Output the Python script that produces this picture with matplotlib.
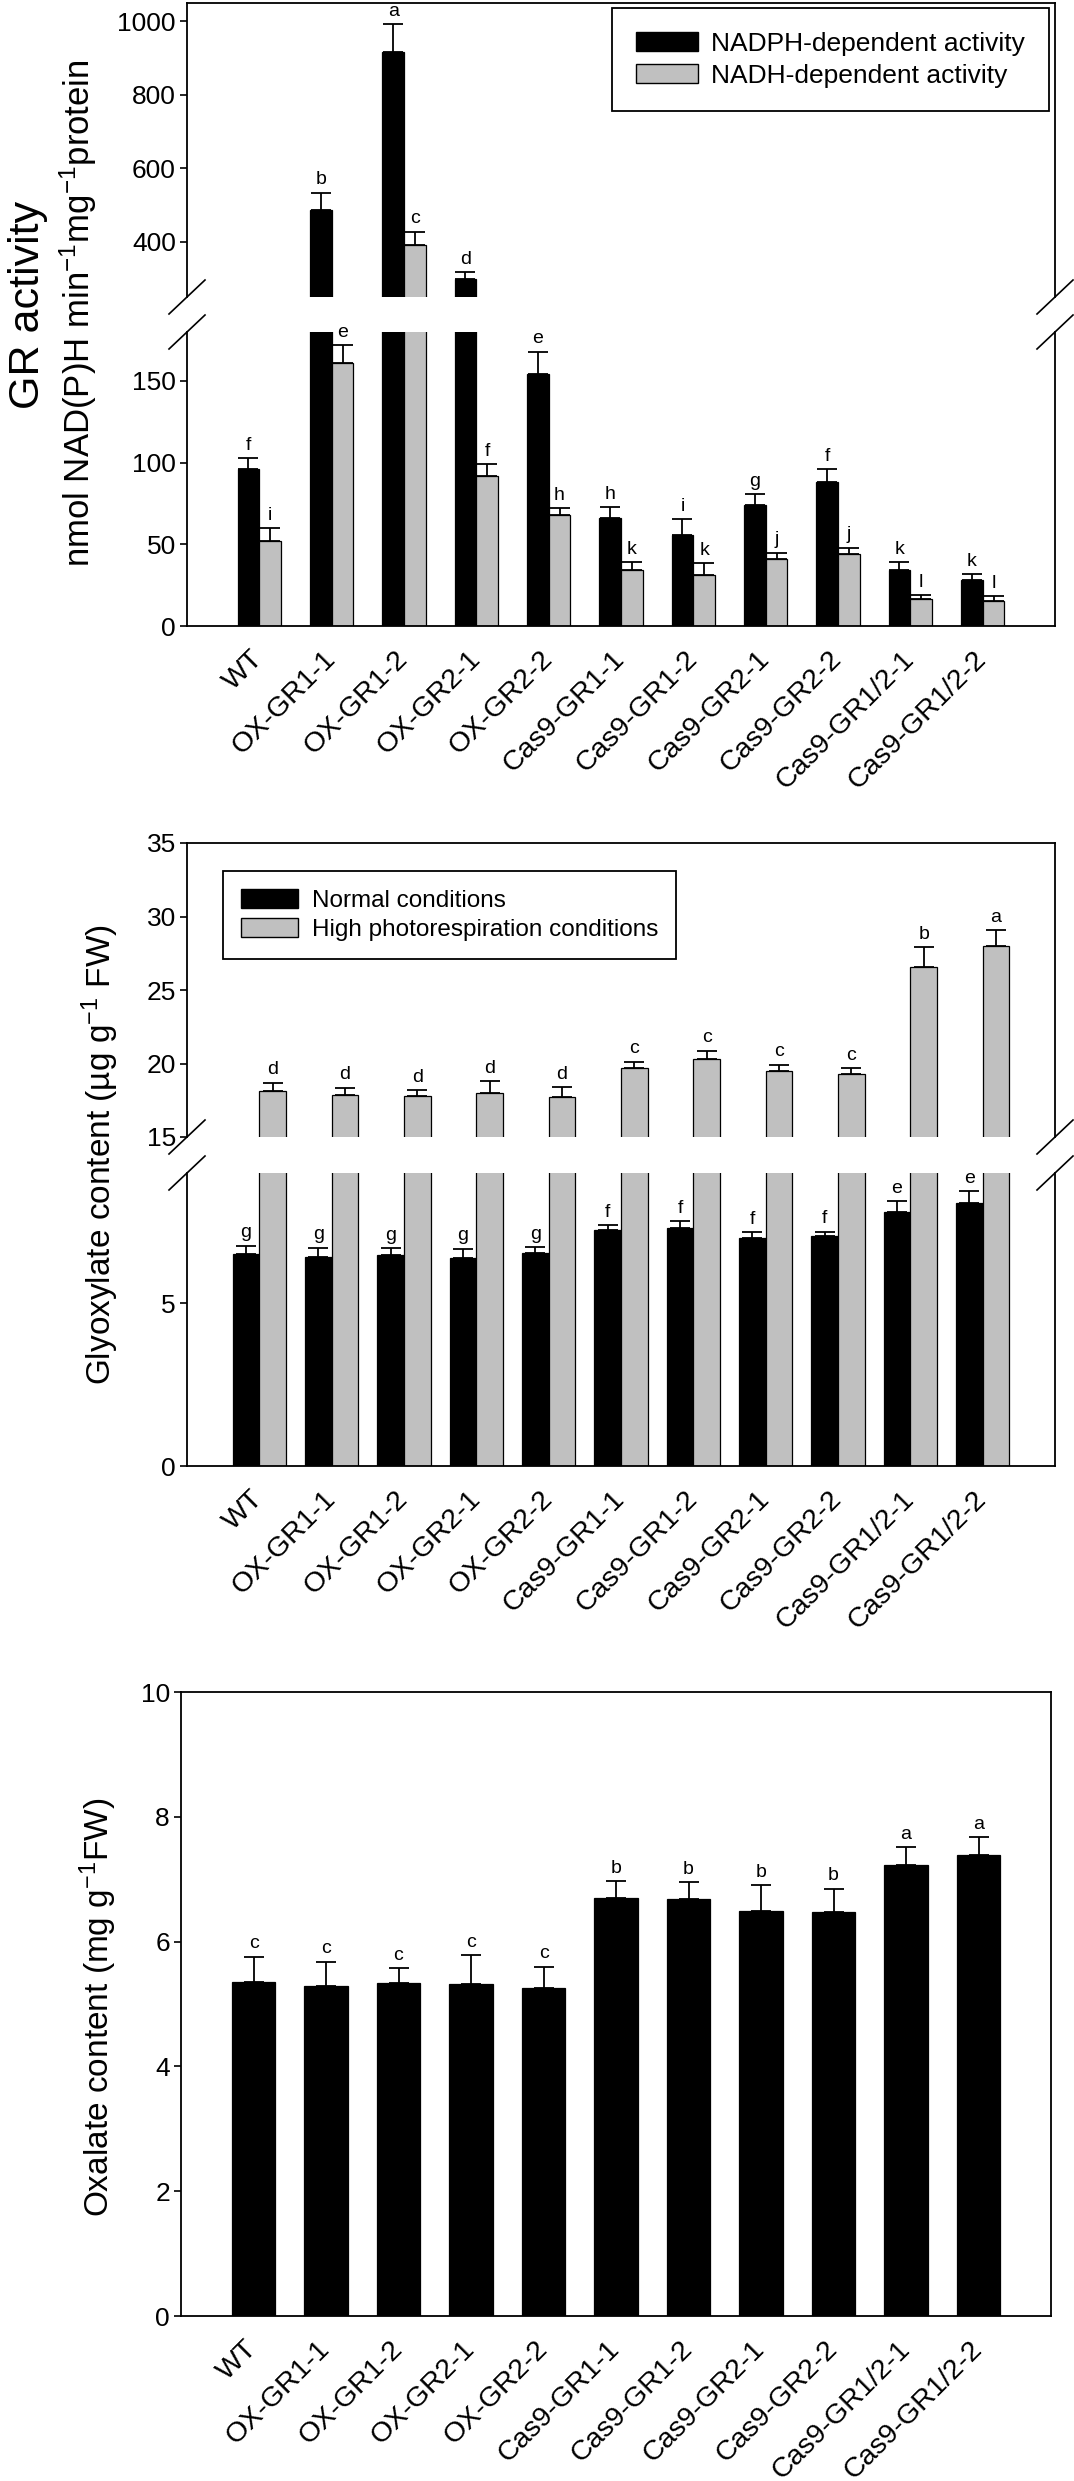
########################################################  Pacotes

import numpy as np
import matplotlib
matplotlib.use('Agg')
import matplotlib.pyplot as plt
from matplotlib.lines import Line2D
from matplotlib.patches import Patch

########################################################  Dados

linhagens = ['WT', 'OX-GR1-1', 'OX-GR1-2', 'OX-GR2-1', 'OX-GR2-2',
             'Cas9-GR1-1', 'Cas9-GR1-2', 'Cas9-GR2-1', 'Cas9-GR2-2',
             'Cas9-GR1/2-1', 'Cas9-GR1/2-2']

# atividade da GR
nadph_media = [96, 487, 918, 298, 154, 66, 56, 74, 88, 34, 28]
nadph_erro = [7, 47, 74, 20, 14, 7, 9.5, 7, 8, 5, 4]
nadph_letras = ['f', 'b', 'a', 'd', 'e', 'h', 'i', 'g', 'f', 'k', 'k']

nadh_media = [52, 161, 392, 92, 68, 34, 31.5, 41, 44, 16.5, 15.5]
nadh_erro = [8, 11, 36, 7, 4, 5, 7, 4, 4, 2.5, 3]
nadh_letras = ['i', 'e', 'c', 'f', 'h', 'k', 'k', 'j', 'j', 'l', 'l']

# glioxilato
normal_media = [6.52, 6.42, 6.48, 6.40, 6.53, 7.24, 7.30, 7.00, 7.07, 7.79, 8.07]
normal_erro = [0.25, 0.29, 0.22, 0.28, 0.19, 0.17, 0.22, 0.18, 0.13, 0.34, 0.37]
normal_letras = ['g', 'g', 'g', 'g', 'g', 'f', 'f', 'f', 'f', 'e', 'e']

foto_media = [18.1, 17.84, 17.79, 18.0, 17.75, 19.68, 20.29, 19.52, 19.29, 26.56, 27.99]
foto_erro = [0.6, 0.52, 0.41, 0.8, 0.63, 0.45, 0.59, 0.41, 0.39, 1.36, 1.11]
foto_letras = ['d', 'd', 'd', 'd', 'd', 'c', 'c', 'c', 'c', 'b', 'a']

# oxalato
oxalato_media = [5.35, 5.29, 5.34, 5.32, 5.26, 6.70, 6.68, 6.49, 6.47, 7.23, 7.39]
oxalato_erro = [0.41, 0.39, 0.23, 0.46, 0.34, 0.27, 0.28, 0.42, 0.38, 0.29, 0.28]
oxalato_letras = ['c', 'c', 'c', 'c', 'c', 'b', 'b', 'b', 'b', 'a', 'a']

########################################################  Configuração

plt.rcParams['font.family'] = 'Liberation Sans'
plt.rcParams['mathtext.fontset'] = 'custom'
plt.rcParams['mathtext.rm'] = 'Liberation Sans'
plt.rcParams['mathtext.it'] = 'Liberation Sans'

W, H = 1074, 2481
cinza = '#c0c0c0'
x = np.arange(1, len(linhagens) + 1)


# posição de um eixo a partir dos pixels (esquerda, direita, topo, base)
def caixa(esq, dir, topo, base):
    return [esq / W, 1 - base / H, (dir - esq) / W, (base - topo) / H]


# estilo comum dos eixos
def estilo(ax, yticks, ylim):
    ax.set_xlim(0, 12)
    ax.set_ylim(*ylim)
    ax.set_yticks(yticks)
    ax.tick_params(axis='y', direction='out', length=5, width=1.2, labelsize=19, pad=3)
    ax.tick_params(axis='x', length=0, labelsize=20.5, pad=21)
    for s in ax.spines.values():
        s.set_linewidth(1.3)


# barras com erro para cima e letras
def barras(ax, pos, media, erro, letras, largura, cor):
    ax.bar(pos, media, largura, color=cor, edgecolor='black', linewidth=0.9)
    ax.errorbar(pos, media, yerr=[np.zeros(len(erro)), erro], fmt='none',
                ecolor='black', elinewidth=1.3, capsize=7, capthick=1.3)
    for xi, m, e, l in zip(pos, media, erro, letras):
        ax.annotate(l, (xi, m + e), xytext=(0, 3), textcoords='offset points',
                    ha='center', va='bottom', fontsize=14, annotation_clip=True)


# marcas de quebra do eixo
def quebra(fig, ax_sup, ax_inf):
    ps = ax_sup.get_position()
    pi = ax_inf.get_position()
    dx, dy = 18 / W, 17 / H
    for xb in [ps.x0, ps.x1]:
        for yb in [ps.y0, pi.y1]:
            fig.add_artist(Line2D([xb - dx, xb + dx], [yb - dy, yb + dy],
                                  color='black', lw=1.2, transform=fig.transFigure))


def rotulos_x(ax):
    ax.set_xticks(x)
    ax.set_xticklabels(linhagens, rotation=45, ha='right', va='center',
                       rotation_mode='anchor')


fig = plt.figure(figsize=(W / 100, H / 100), dpi=100)

########################################################  Painel 1 - GR

a1s = fig.add_axes(caixa(187, 1055, 3, 297))
a1i = fig.add_axes(caixa(187, 1055, 332, 626))
for ax in [a1s, a1i]:
    barras(ax, x - 0.15, nadph_media, nadph_erro, nadph_letras, 0.3, 'black')
    barras(ax, x + 0.15, nadh_media, nadh_erro, nadh_letras, 0.3, cinza)
estilo(a1s, [400, 600, 800, 1000], (250, 1050))
estilo(a1i, [0, 50, 100, 150], (0, 180))
a1s.spines['bottom'].set_visible(False)
a1s.set_xticks([])
a1i.spines['top'].set_visible(False)
rotulos_x(a1i)
quebra(fig, a1s, a1i)

a1s.legend(handles=[Patch(facecolor='black', edgecolor='black', label='NADPH-dependent activity'),
                    Patch(facecolor=cinza, edgecolor='black', label='NADH-dependent activity')],
           loc='upper right', bbox_to_anchor=(1049 / W, 1 - 8 / H), bbox_transform=fig.transFigure,
           fontsize=19, frameon=True, fancybox=False, edgecolor='black', framealpha=1,
           handlelength=2.35, handleheight=0.76, handletextpad=0.5, labelspacing=0.3,
           borderpad=0.9, borderaxespad=0)
a1s.get_legend().get_frame().set_linewidth(1.3)

fig.text(28 / W, 1 - 305 / H, 'GR activity', rotation=90, fontsize=31,
         ha='center', va='center')
fig.text(78 / W, 1 - 313 / H, 'nmol NAD(P)H min$^{-1}$mg$^{-1}$protein', rotation=90,
         fontsize=25, ha='center', va='center')

########################################################  Painel 2 - Glioxilato

a2s = fig.add_axes(caixa(187, 1055, 843, 1137))
a2i = fig.add_axes(caixa(187, 1055, 1173, 1466))
for ax in [a2s, a2i]:
    barras(ax, x - 0.185, normal_media, normal_erro, normal_letras, 0.37, 'black')
    barras(ax, x + 0.185, foto_media, foto_erro, foto_letras, 0.37, cinza)
estilo(a2s, [15, 20, 25, 30, 35], (15, 35))
estilo(a2i, [0, 5], (0, 9))
a2s.spines['bottom'].set_visible(False)
a2s.set_xticks([])
a2i.spines['top'].set_visible(False)
rotulos_x(a2i)
quebra(fig, a2s, a2i)

a2s.legend(handles=[Patch(facecolor='black', edgecolor='black', label='Normal conditions'),
                    Patch(facecolor=cinza, edgecolor='black', label='High photorespiration conditions')],
           loc='upper left', bbox_to_anchor=(223 / W, 1 - 871 / H), bbox_transform=fig.transFigure,
           fontsize=17.5, frameon=True, fancybox=False, edgecolor='black', framealpha=1,
           handlelength=2.35, handleheight=0.8, handletextpad=0.55, labelspacing=0.25,
           borderpad=0.75, borderaxespad=0)
a2s.get_legend().get_frame().set_linewidth(1.3)

fig.text(100 / W, 1 - 1155 / H, 'Glyoxylate content (µg g$^{-1}$ FW)', rotation=90,
         fontsize=24, ha='center', va='center')

########################################################  Painel 3 - Oxalato

a3 = fig.add_axes(caixa(181, 1051, 1692, 2316))
barras(a3, x, oxalato_media, oxalato_erro, oxalato_letras, 0.6, 'black')
estilo(a3, [0, 2, 4, 6, 8, 10], (0, 10))
rotulos_x(a3)

fig.text(98 / W, 1 - 2007 / H, 'Oxalate content (mg g$^{-1}$FW)', rotation=90,
         fontsize=24, ha='center', va='center')

fig.savefig('out.png', dpi=100)
